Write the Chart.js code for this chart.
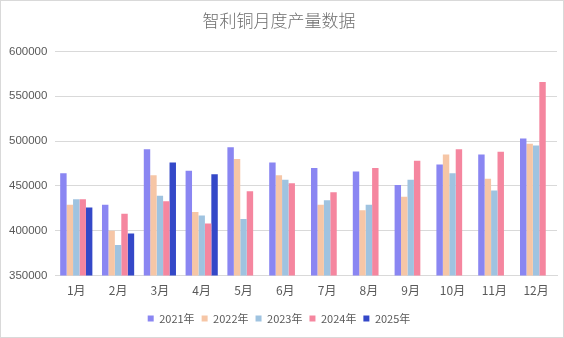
<!DOCTYPE html>
<html>
<head>
<meta charset="utf-8">
<script src="https://cdn.jsdelivr.net/npm/chart.js@4.4.1/dist/chart.umd.min.js"></script>
<style>
    html, body { margin: 0; padding: 0; background: #fff; }
    .chart-box { position: relative; width: 562px; height: 336px; border: 1px solid #d9d9d9; }
</style>
</head>
<body>
<div class="chart-box">
    <canvas id="copper-chart"></canvas>
</div>
<script>
    var months = ['1月', '2月', '3月', '4月', '5月', '6月', '7月', '8月', '9月', '10月', '11月', '12月'];
    var y2021 = [464000, 429000, 491000, 467000, 493000, 476000, 470000, 466000, 451000, 474000, 485000, 503000];
    var y2022 = [429000, 400000, 462000, 421000, 480000, 462000, 429000, 423000, 438000, 485000, 458000, 497000];
    var y2023 = [435000, 384000, 439000, 417000, 413000, 457000, 434000, 429000, 457000, 464000, 445000, 495000];
    var y2024 = [435000, 419000, 433000, 408000, 444000, 453000, 443000, 470000, 478000, 491000, 488000, 566000];
    var y2025 = [426000, 397000, 476000, 463000, null, null, null, null, null, null, null, null];

    var series = [
        { label: '2021年', data: y2021, color: '#8a86f2' },
        { label: '2022年', data: y2022, color: '#f6c6a6' },
        { label: '2023年', data: y2023, color: '#9fc3e0' },
        { label: '2024年', data: y2024, color: '#f5869f' },
        { label: '2025年', data: y2025, color: '#3448c8' }
    ];

    var font_family = '"Noto Sans CJK SC", "Noto Sans", sans-serif';
    Chart.defaults.font.family = font_family;
    Chart.defaults.color = '#595959';

    new Chart(document.getElementById('copper-chart').getContext('2d'), {
        type: 'bar',
        data: {
            labels: months,
            datasets: series.map(function (s) {
                return {
                    label: s.label,
                    data: s.data,
                    backgroundColor: s.color,
                    borderWidth: 0,
                    barPercentage: 1,
                    categoryPercentage: 0.77
                };
            })
        },
        options: {
            responsive: true,
            maintainAspectRatio: false,
            animation: false,
            layout: { padding: { left: 0, right: 6, top: 0, bottom: 3 } },
            plugins: {
                title: {
                    display: true,
                    text: '智利铜月度产量数据',
                    font: { size: 17, weight: 300 },
                    color: '#6e6e6e',
                    padding: { top: 9, bottom: 21 }
                },
                legend: {
                    position: 'bottom',
                    labels: {
                        boxWidth: 6,
                        boxHeight: 6,
                        padding: 7,
                        font: { size: 11 },
                        color: '#595959'
                    }
                },
                tooltip: { enabled: false }
            },
            scales: {
                x: {
                    grid: { display: false },
                    border: { color: '#d9d9d9' },
                    ticks: { font: { size: 12 }, color: '#595959', padding: 0 },
                    afterFit: function (scale) { scale.height += 8; }
                },
                y: {
                    min: 350000,
                    max: 600000,
                    ticks: {
                        stepSize: 50000,
                        font: { family: '"Liberation Sans", sans-serif', size: 11.5 },
                        color: '#595959',
                        padding: 8,
                        callback: function (v) { return String(v); }
                    },
                    grid: { color: '#d9d9d9', drawTicks: false },
                    border: { display: false }
                }
            }
        }
    });
</script>
</body>
</html>
